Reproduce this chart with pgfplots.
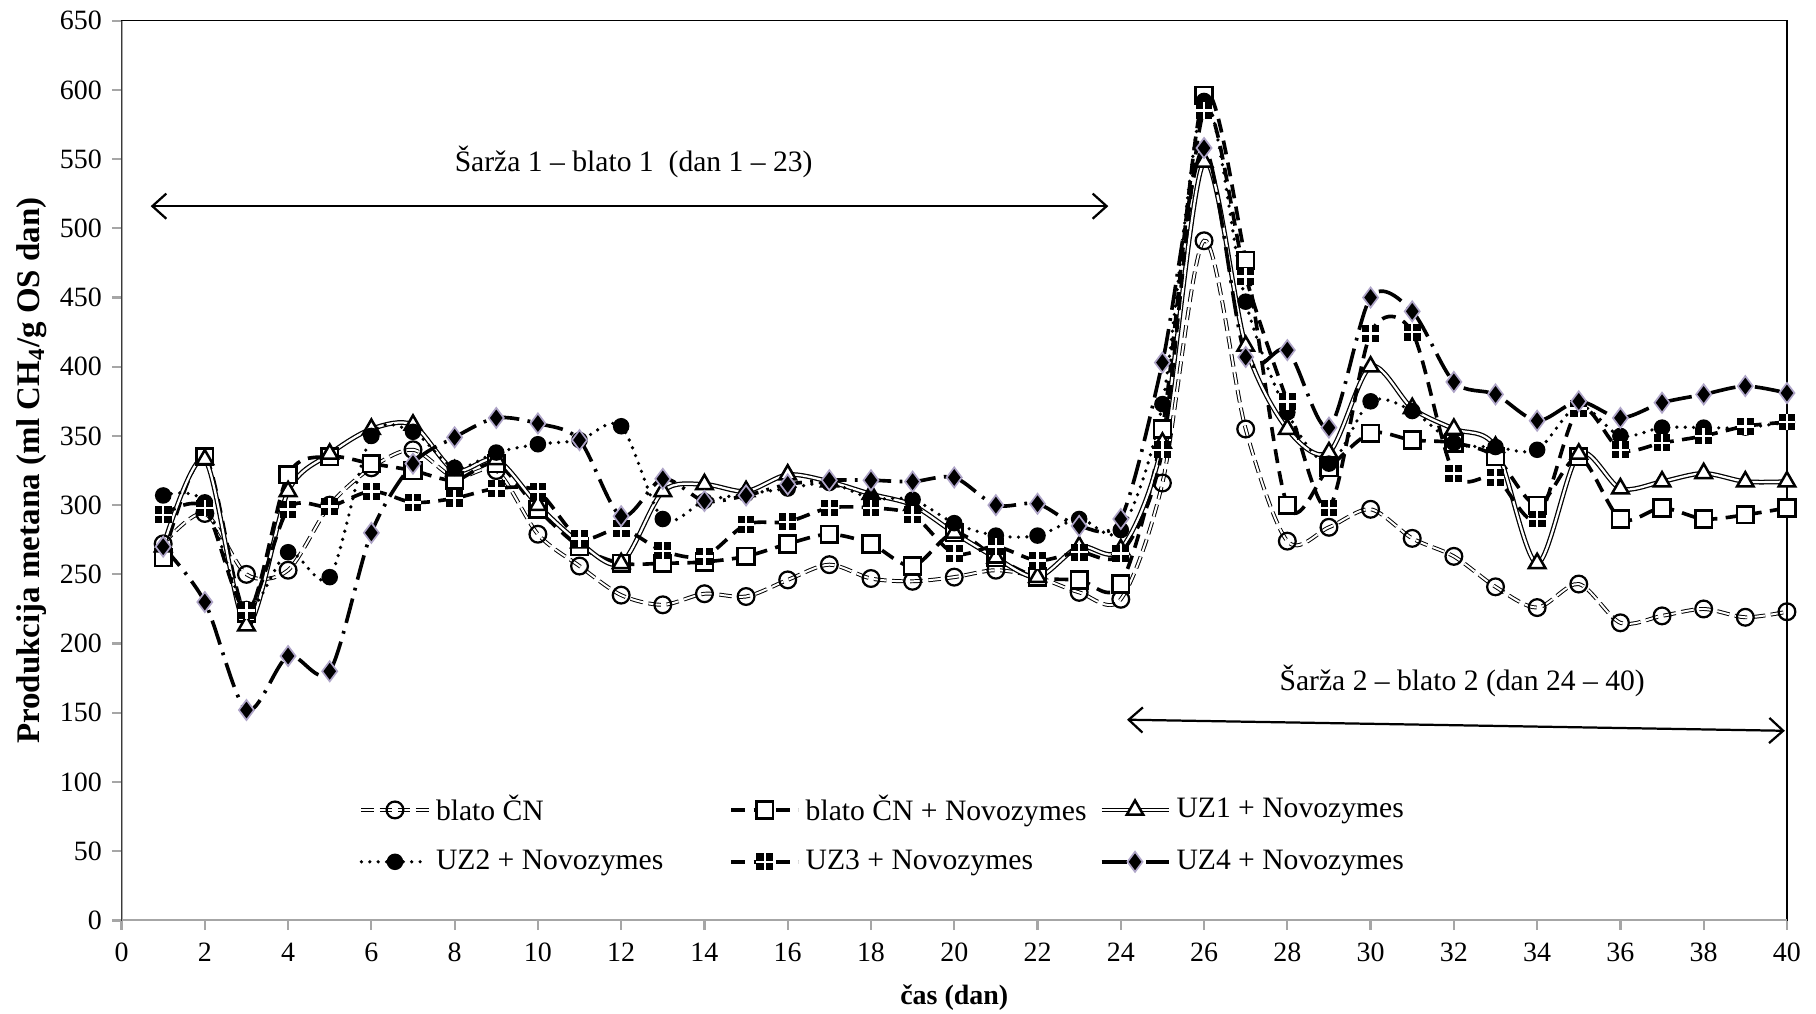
\documentclass[border=0pt]{standalone}
\usepackage{fontspec}
\setmainfont{Liberation Serif}
\usepackage{pgfplots}
\pgfplotsset{compat=1.18}
\usetikzlibrary{arrows.meta,calc}
\pgfdeclareplotmark{sqplus}{%
  \pgfpathrectangle{\pgfpoint{-\pgfplotmarksize}{-\pgfplotmarksize}}{\pgfpoint{2\pgfplotmarksize}{2\pgfplotmarksize}}%
  \pgfusepathqfill
  \pgfsetstrokecolor{white}\pgfsetlinewidth{0.9pt}\pgfsetdash{}{0pt}%
  \pgfpathmoveto{\pgfpoint{-\pgfplotmarksize}{0pt}}\pgfpathlineto{\pgfpoint{\pgfplotmarksize}{0pt}}%
  \pgfpathmoveto{\pgfpoint{0pt}{-\pgfplotmarksize}}\pgfpathlineto{\pgfpoint{0pt}{\pgfplotmarksize}}%
  \pgfusepathqstroke}
\definecolor{lav}{RGB}{175,165,200}
\newcommand{\lf}{\fontsize{10.6}{12.5}\selectfont}
\begin{document}
\begin{tikzpicture}
\begin{axis}[
  scale only axis, width=596pt, height=322pt,
  xmin=0, xmax=40, ymin=0, ymax=650,
  xtick={0,2,...,40}, ytick={0,50,...,650},
  tick align=outside, xtick pos=bottom, ytick pos=left,
  major tick length=3.5pt,
  tick style={gray!70, line width=0.8pt},
  axis line style={black, line width=0.5pt},
  /pgf/number format/assume math mode=true,
  xticklabel style={yshift=-1pt},
  xlabel={\textbf{čas (dan)}},
  ylabel={\fontsize{11.8}{14}\selectfont\textbf{Produkcija metana (ml CH\textsubscript{4}/g OS dan)}},
  xlabel style={at={(rel axis cs:0.5,0)}, anchor=center, inner sep=0pt, yshift=-27.8pt},
  ylabel style={yshift=-2pt},
  legend columns=3,
  legend cell align=left,
  legend style={draw=none, fill=none, at={(axis cs:5.5,99)}, anchor=north west,
    row sep=5pt, column sep=0pt, font=\lf},
  legend image code/.code={\draw[mark repeat=2,mark phase=2] plot coordinates {(0pt,0pt)(12pt,0pt)(24pt,0pt)};},
  legend image post style={sharp plot},
  every axis plot/.append style={smooth, tension=0.5},
]
% blato CN
\addplot[black, line width=0.35pt, double=white, double distance=0.7pt, dash pattern=on 4.5pt off 2pt,
  mark=o, mark size=3pt, mark options={solid, fill=white, line width=0.8pt}]
 coordinates {(1,272)(2,294)(3,250)(4,253)(5,300)(6,327)(7,340)(8,320)(9,325)(10,279)
 (11,256)(12,235)(13,228)(14,236)(15,234)(16,246)(17,257)(18,247)(19,245)(20,248)
 (21,253)(22,248)(23,237)(24,232)(25,316)(26,491)(27,355)(28,274)(29,284)(30,297)
 (31,276)(32,263)(33,241)(34,226)(35,243)(36,215)(37,220)(38,225)(39,219)(40,223)};
\addlegendentry{\makebox[103pt][l]{blato ČN}}
% blato CN + Novozymes
\addplot[black, line width=1.3pt, dash pattern=on 5pt off 3pt,
  mark=square*, mark size=3pt, mark options={solid, fill=white, line width=0.9pt}]
 coordinates {(1,262)(2,335)(3,222)(4,322)(5,335)(6,330)(7,325)(8,318)(9,330)(10,297)
 (11,270)(12,258)(13,258)(14,259)(15,263)(16,272)(17,279)(18,272)(19,256)(20,280)
 (21,262)(22,248)(23,246)(24,243)(25,355)(26,596)(27,477)(28,300)(29,327)(30,352)
 (31,347)(32,345)(33,335)(34,300)(35,335)(36,290)(37,298)(38,290)(39,293)(40,298)};
\addlegendentry{\makebox[103pt][l]{blato ČN + Novozymes}}
% UZ1
\addplot[black, line width=0.45pt, double=white, double distance=0.8pt,
  mark=triangle*, mark size=3.4pt, mark options={solid, fill=white, line width=0.9pt}]
 coordinates {(1,270)(2,333)(3,213)(4,310)(5,337)(6,355)(7,358)(8,325)(9,333)(10,300)
 (11,273)(12,258)(13,310)(14,315)(15,310)(16,322)(17,317)(18,308)(19,300)(20,280)
 (21,262)(22,248)(23,270)(24,268)(25,345)(26,548)(27,415)(28,355)(29,338)(30,400)
 (31,370)(32,355)(33,342)(34,258)(35,337)(36,312)(37,317)(38,323)(39,317)(40,317)};
\addlegendentry{UZ1 + Novozymes}
% UZ2
\addplot[black, line width=1.3pt, line cap=round, dash pattern=on 0pt off 3pt,
  mark=*, mark size=2.3pt, mark options={solid}]
 coordinates {(1,307)(2,302)(3,225)(4,266)(5,248)(6,350)(7,353)(8,327)(9,338)(10,344)
 (11,347)(12,357)(13,290)(14,303)(15,308)(16,312)(17,316)(18,305)(19,304)(20,287)
 (21,278)(22,278)(23,290)(24,282)(25,373)(26,592)(27,447)(28,367)(29,330)(30,375)
 (31,368)(32,345)(33,342)(34,340)(35,372)(36,350)(37,356)(38,356)(39,356)(40,360)};
\addlegendentry{\makebox[103pt][l]{UZ2 + Novozymes}}
% UZ3
\addplot[black, line width=1.3pt, dash pattern=on 5pt off 3pt,
  mark=sqplus, mark size=3pt, mark options={solid}]
 coordinates {(1,293)(2,298)(3,224)(4,297)(5,299)(6,310)(7,302)(8,305)(9,312)(10,310)
 (11,276)(12,283)(13,267)(14,263)(15,286)(16,288)(17,298)(18,298)(19,293)(20,265)
 (21,270)(22,260)(23,266)(24,265)(25,340)(26,585)(27,465)(28,375)(29,298)(30,424)
 (31,425)(32,323)(33,320)(34,290)(35,370)(36,340)(37,345)(38,350)(39,357)(40,360)};
\addlegendentry{\makebox[103pt][l]{UZ3 + Novozymes}}
% UZ4
\addplot[black, line width=1.3pt, dash pattern=on 9pt off 3pt on 1pt off 3pt,
  mark=diamond*, mark size=3.6pt, mark options={solid, fill=black, draw=lav, line width=0.6pt}]
 coordinates {(1,270)(2,230)(3,152)(4,191)(5,180)(6,280)(7,330)(8,349)(9,363)(10,359)
 (11,347)(12,292)(13,319)(14,303)(15,307)(16,315)(17,318)(18,318)(19,317)(20,320)
 (21,300)(22,301)(23,285)(24,290)(25,403)(26,558)(27,407)(28,412)(29,356)(30,450)
 (31,440)(32,389)(33,380)(34,361)(35,375)(36,363)(37,374)(38,380)(39,386)(40,381)};
\addlegendentry{UZ4 + Novozymes}
% annotations
\draw[{Straight Barb[length=5pt,width=9pt]}-{Straight Barb[length=5pt,width=9pt]}, line width=0.8pt]
  (axis cs:0.7,516) -- (axis cs:23.7,516);
\node[font=\lf] at (axis cs:12.3,548) {Šarža 1 – blato 1 \ (dan 1 – 23)};
\draw[{Straight Barb[length=5pt,width=9pt]}-{Straight Barb[length=5pt,width=9pt]}, line width=0.8pt]
  (axis cs:24.15,145) -- (axis cs:39.95,137);
\node[font=\lf] at (axis cs:32.2,173) {Šarža 2 – blato 2 (dan 24 – 40)};
% gray left and bottom axis lines
\draw[gray!70, line width=1pt] (rel axis cs:0,1) -- (rel axis cs:0,0) -- (rel axis cs:1,0);
\coordinate (ll) at (rel axis cs:0,0);
\coordinate (ur) at (rel axis cs:1,1);
\end{axis}
\path ($(ll)+(-43.5pt,-33.4pt)$) rectangle ($(ur)+(10.4pt,7.4pt)$);
\end{tikzpicture}
\end{document}
